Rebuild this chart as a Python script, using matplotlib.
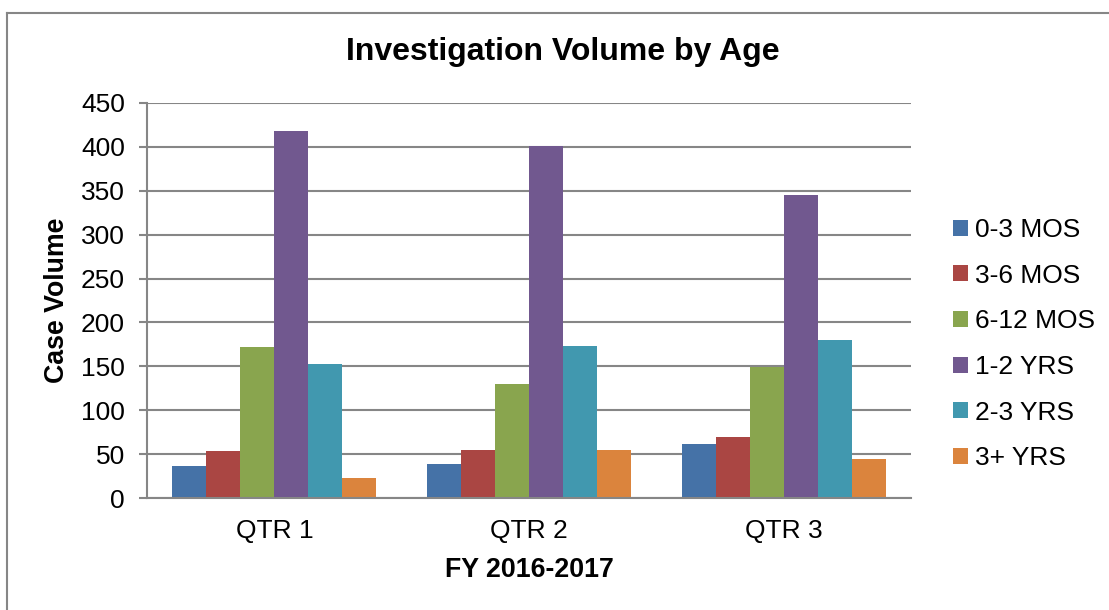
import matplotlib
matplotlib.use("Agg")
import matplotlib.pyplot as plt
import numpy as np
from matplotlib.lines import Line2D
from matplotlib.patches import Patch

plt.rcParams['font.family'] = ['Liberation Sans', 'DejaVu Sans']

categories = ["QTR 1", "QTR 2", "QTR 3"]
series_names = ["0-3 MOS", "3-6 MOS", "6-12 MOS", "1-2 YRS", "2-3 YRS", "3+ YRS"]
v_0_3_mos = [36, 39, 62]
v_3_6_mos = [53, 55, 69]
v_6_12_mos = [172, 130, 149]
v_1_2_yrs = [418, 401, 345]
v_2_3_yrs = [153, 173, 180]
v_3p_yrs = [23, 55, 45]
series_values = [v_0_3_mos, v_3_6_mos, v_6_12_mos, v_1_2_yrs, v_2_3_yrs, v_3p_yrs]
colors = ["#4572A7", "#AA4643", "#89A54E", "#71588F", "#4198AF", "#DB843D"]
yticks = [0, 50, 100, 150, 200, 250, 300, 350, 400, 450]

W, H = 1109, 610
fig = plt.figure(figsize=(W / 100, H / 100), dpi=100)
ax = fig.add_axes([147 / W, 1 - 498 / H, (911 - 147) / W, (498 - 103) / H])

n = len(series_names)
group = 0.8
bw = group / n
x = np.arange(len(categories))
for i, (name, vals, c) in enumerate(zip(series_names, series_values, colors)):
    ax.bar(x - group / 2 + bw * (i + 0.5), vals, width=bw, color=c, label=name, zorder=2)

ax.set_xlim(-0.5, len(categories) - 0.5)
ax.set_ylim(0, 450)
ax.set_yticks(yticks)
ax.set_xticks(x)
ax.set_xticklabels(categories)
grid_c = "#868686"
ax.yaxis.grid(True, color=grid_c, linewidth=1.5, zorder=1)
ax.set_axisbelow(True)
for s in ["top", "right"]:
    ax.spines[s].set_visible(False)
ax.spines["left"].set_color(grid_c)
ax.spines["left"].set_linewidth(1.5)
ax.spines["bottom"].set_color(grid_c)
ax.spines["bottom"].set_linewidth(1.5)
ax.spines["bottom"].set_zorder(3)
ax.tick_params(axis="y", length=6, width=1.5, color=grid_c, labelsize=19, pad=10)
ax.tick_params(axis="x", length=0, labelsize=19, pad=15)

fig.text(563 / W, 1 - 52 / H, "Investigation Volume by Age", ha="center", va="center",
         fontsize=23, fontweight="bold")
fig.text(57 / W, 1 - 300 / H, "Case Volume", ha="center", va="center", rotation=90,
         fontsize=19.3, fontweight="bold")
fig.text(529 / W, 1 - 570 / H, "FY 2016-2017", ha="center", va="center",
         fontsize=19.3, fontweight="bold")

handles = [Patch(facecolor=c, edgecolor="none") for c in colors]
fig.legend(handles, series_names, loc="upper left",
           bbox_to_anchor=(953 / W, 1 - 218 / H), frameon=False, fontsize=19,
           handlelength=0.55, handleheight=0.55, handletextpad=0.3, labelspacing=0.82,
           borderaxespad=0, borderpad=0)

# chart border
fig.add_artist(Line2D([7 / W, 7 / W], [0, 1 - 13 / H], color="#868686", linewidth=1.5,
                      transform=fig.transFigure))
fig.add_artist(Line2D([7 / W, 1.0], [1 - 13 / H, 1 - 13 / H], color="#868686", linewidth=1.5,
                      transform=fig.transFigure))

fig.savefig("out.png", dpi=100)
